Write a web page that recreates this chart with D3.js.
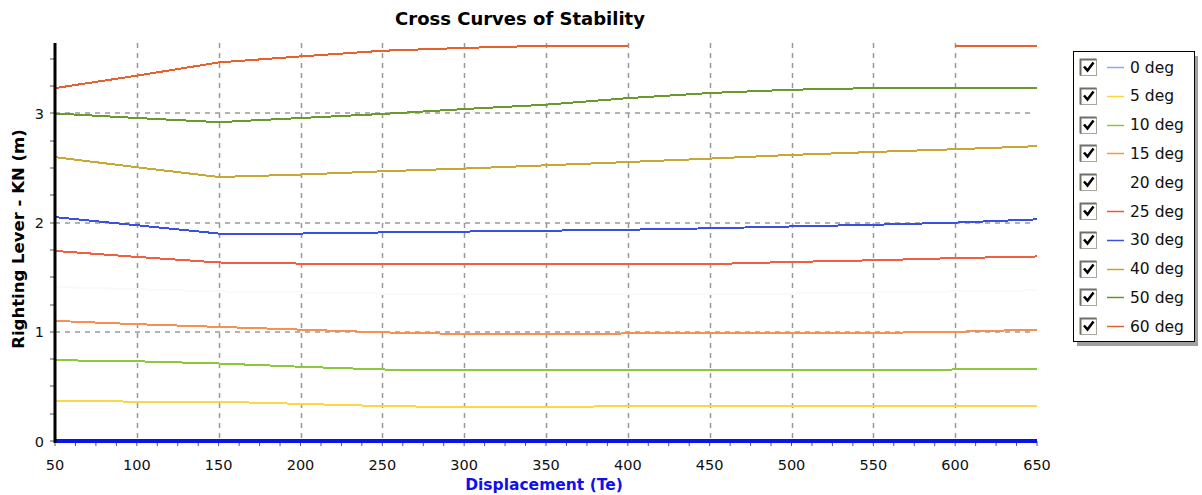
<!DOCTYPE html>
<html><head><meta charset="utf-8">
<script src="https://cdn.jsdelivr.net/npm/d3@7"></script>
<style>
body{margin:0;background:#fff;}
svg{display:block;}
text{font-family:"DejaVu Sans",Verdana,sans-serif;}
</style></head>
<body>
<svg id="c" width="1202" height="495"></svg>
<script>
const displacement = [50,100,150,200,250,300,350,400,450,500,550,600,650];
const seriesNames = ["0 deg","5 deg","10 deg","15 deg","20 deg","25 deg","30 deg","40 deg","50 deg","60 deg"];
const deg0  = [0,0,0,0,0,0,0,0,0,0,0,0,0];
const deg5  = [0.37,0.36,0.36,0.34,0.32,0.31,0.31,0.32,0.32,0.32,0.32,0.32,0.32];
const deg10 = [0.74,0.73,0.71,0.68,0.655,0.647,0.647,0.647,0.647,0.647,0.647,0.655,0.66];
const deg15 = [1.10,1.07,1.045,1.02,0.995,0.98,0.978,0.985,0.985,0.985,0.99,1.0,1.02];
const deg20 = [1.41,1.39,1.37,1.36,1.35,1.35,1.35,1.35,1.35,1.35,1.36,1.37,1.38];
const deg25 = [1.741,1.686,1.635,1.625,1.617,1.617,1.617,1.617,1.62,1.64,1.655,1.675,1.69];
const deg30 = [2.05,1.976,1.90,1.90,1.91,1.918,1.926,1.935,1.948,1.965,1.98,2.0,2.03];
const deg40 = [2.60,2.507,2.418,2.44,2.47,2.495,2.525,2.555,2.586,2.62,2.647,2.672,2.70];
const deg50 = [3.0,2.958,2.92,2.958,2.995,3.04,3.08,3.14,3.187,3.217,3.232,3.232,3.232];
const deg60 = [3.232,3.346,3.467,3.522,3.574,3.60,3.62,3.62,null,null,null,3.62,3.62];
const seriesValues = [deg0,deg5,deg10,deg15,deg20,deg25,deg30,deg40,deg50,deg60];
const legendColors = ["#8ea8f2","#ffd43c","#8cc63c","#ff9248","#ffffff","#f0563c","#3a4fe0","#c8a52c","#5f9a1c","#e0622e"];
const lineColors   = ["#8ea8f2","#fcd64a","#8cc83c","#f89050","#f9f9f9","#f06040","#3a50e0","#c8a830","#6a9a2a","#e8602c"];
const xTicks = [50,100,150,200,250,300,350,400,450,500,550,600,650];
const yTicks = [0,1,2,3];

const svg = d3.select("#c");
const x = d3.scaleLinear().domain([50,650]).range([55,1037]);
const y = d3.scaleLinear().domain([0,3.645]).range([441,43]);

// grid
const g = svg.append("g");
g.selectAll(".vg").data(xTicks.filter(v=>v>50&&v<650)).enter().append("line")
  .attr("x1",d=>Math.round(x(d))+0.5).attr("x2",d=>Math.round(x(d))+0.5)
  .attr("y1",43).attr("y2",441)
  .attr("stroke","#999").attr("stroke-width",1.5).attr("stroke-dasharray","5,5");
g.selectAll(".hg").data(yTicks.filter(v=>v>0)).enter().append("line")
  .attr("x1",55).attr("x2",1030)
  .attr("y1",d=>Math.round(y(d))).attr("y2",d=>Math.round(y(d)))
  .attr("stroke","#999").attr("stroke-width",1.5).attr("stroke-dasharray","5,5");

// lines
const line = d3.line().defined(d=>d[1]!==null).x(d=>x(d[0])).y(d=>y(d[1]));
seriesValues.forEach((vals,i)=>{
  if(i===0) return;
  svg.append("path")
    .datum(displacement.map((d,j)=>[d,vals[j]]))
    .attr("d",line).attr("fill","none")
    .attr("stroke",lineColors[i]).attr("stroke-width",2)
    .attr("shape-rendering","crispEdges");
});

// x axis (blue, thick) with minor ticks
const xMinor = d3.range(50,650.1,12.5);
svg.append("g").selectAll("line").data(xMinor).enter().append("line")
  .attr("x1",d=>x(d)).attr("x2",d=>x(d)).attr("y1",441).attr("y2",446)
  .attr("stroke","#555").attr("stroke-width",1);
svg.append("path").datum(displacement.map((d,j)=>[d,deg0[j]]))
  .attr("d",line).attr("fill","none").attr("stroke","#0a14f0").attr("stroke-width",4);

// y axis
const yMinor = d3.range(0,3.6,0.25);
svg.append("g").selectAll("line").data(yMinor).enter().append("line")
  .attr("x1",50).attr("x2",55).attr("y1",d=>Math.round(y(d))).attr("y2",d=>Math.round(y(d)))
  .attr("stroke","#555").attr("stroke-width",1);
svg.append("line").attr("x1",55).attr("x2",55).attr("y1",43).attr("y2",443)
  .attr("stroke","#000").attr("stroke-width",3);

// tick labels
svg.append("g").selectAll("text").data(xTicks).enter().append("text")
  .attr("x",d=>x(d)).attr("y",470).attr("text-anchor","middle")
  .attr("font-size",14.5).attr("fill","#111").text(d=>d);
svg.append("g").selectAll("text").data(yTicks).enter().append("text")
  .attr("x",44).attr("y",d=>y(d)+5.5).attr("text-anchor","end")
  .attr("font-size",14.5).attr("fill","#111").text(d=>d);

// titles
svg.append("text").attr("x",520).attr("y",25).attr("text-anchor","middle")
  .attr("font-size",18).attr("font-weight","bold").attr("fill","#000").text("Cross Curves of Stability");
svg.append("text").attr("x",544).attr("y",490).attr("text-anchor","middle")
  .attr("font-size",15.5).attr("font-weight","bold").attr("fill","#1010ee").text("Displacement (Te)");
svg.append("text").attr("transform","translate(24,239) rotate(-90)").attr("text-anchor","middle")
  .attr("font-size",16.5).attr("font-weight","bold").attr("fill","#000").text("Righting Lever - KN (m)");

// legend
const lg = svg.append("g");
lg.append("rect").attr("x",1077).attr("y",56).attr("width",121).attr("height",290).attr("fill","#a0a0a0");
lg.append("rect").attr("x",1073.5).attr("y",51.5).attr("width",121).attr("height",290)
  .attr("fill","#fff").attr("stroke","#000").attr("stroke-width",1);
seriesNames.forEach((n,i)=>{
  const cy = 67 + i*28.8;
  const bx = 1080, by = Math.round(cy-8);
  lg.append("rect").attr("x",bx+0.5).attr("y",by+0.5).attr("width",16).attr("height",16)
    .attr("fill","#fff").attr("stroke","#aaa79a").attr("stroke-width",1);
  lg.append("path").attr("d",`M${bx+0.5},${by+16.5}V${by+0.5}H${bx+16.5}`).attr("fill","none")
    .attr("stroke","#716f64").attr("stroke-width",2);
  lg.append("path").attr("d",`M${bx+4},${by+7.5} L${bx+7.5},${by+11.5} L${bx+13.5},${by+3.5}`)
    .attr("fill","none").attr("stroke","#000").attr("stroke-width",2.6);
  lg.append("line").attr("x1",1107).attr("x2",1124).attr("y1",Math.round(cy)+0.5).attr("y2",Math.round(cy)+0.5)
    .attr("stroke",legendColors[i]).attr("stroke-width",1.5);
  lg.append("text").attr("x",1130).attr("y",cy+5.5).attr("font-size",15.5).attr("fill","#111").text(n);
});
</script>
</body></html>
